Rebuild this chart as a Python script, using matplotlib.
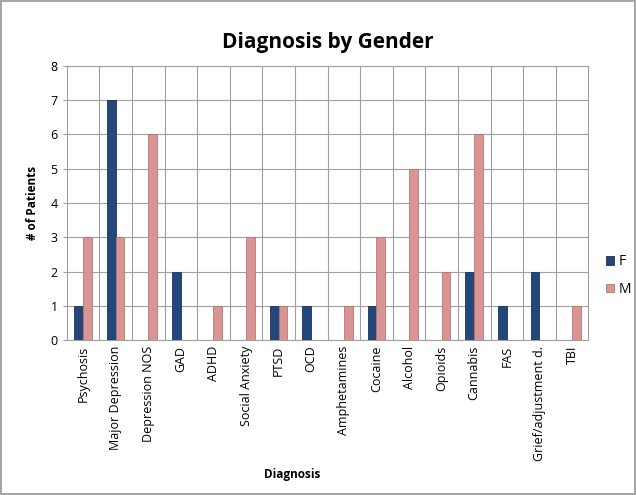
import matplotlib.pyplot as plt
import numpy as np

categories = ["Psychosis", "Major Depression", "Depression NOS", "GAD", "ADHD",
              "Social Anxiety", "PTSD", "OCD", "Amphetamines", "Cocaine", "Alcohol",
              "Opioids", "Cannabis", "FAS", "Grief/adjustment d.", "TBI"]
female = [1, 7, 0, 2, 0, 0, 1, 1, 0, 1, 0, 0, 2, 1, 2, 0]
male = [3, 3, 6, 0, 1, 3, 1, 0, 1, 3, 5, 2, 6, 0, 0, 1]

plt.rcParams['font.family'] = ['Open Sans', 'DejaVu Sans']

#Figure with a thin grey border like the spreadsheet chart frame
figure = plt.figure(figsize=(6.36, 4.95), dpi=100)
figure.patch.set_edgecolor("#a6a6a6")
figure.patch.set_linewidth(1.5)
axes = figure.add_axes([0.105, 0.313, 0.82, 0.554])

x = np.arange(len(categories))
width = 0.27
axes.bar(x - width / 2, female, width, color="#23477a", edgecolor="#1a355c", linewidth=0.6, label="F", zorder=3)
axes.bar(x + width / 2, male, width, color="#d99593", edgecolor="#b87371", linewidth=0.6, label="M", zorder=3)

#Gridlines: horizontal at each integer, vertical between categories
axes.set_xlim(-0.5, len(categories) - 0.5)
axes.set_ylim(0, 8)
axes.set_yticks(range(0, 9))
axes.yaxis.grid(True, color="#a0a0a0", linewidth=0.8, zorder=0)
for boundary in np.arange(0.5, len(categories) - 0.5, 1):
    axes.axvline(boundary, color="#a0a0a0", linewidth=0.8, zorder=0)
for side in axes.spines.values():
    side.set_color("#a0a0a0")
    side.set_linewidth(0.8)

axes.set_xticks(x)
axes.set_xticklabels(categories, rotation=90, fontsize=9)
axes.tick_params(axis="y", labelsize=9, length=3, color="#a0a0a0")
axes.tick_params(axis="x", length=0, pad=4)

axes.set_title("Diagnosis by Gender", fontsize=15, fontweight="bold", pad=13)
axes.set_ylabel("# of Patients", fontsize=8.5, fontweight="bold", labelpad=8)
figure.text(0.46, 0.035, "Diagnosis", fontsize=8.5, fontweight="bold", ha="center")

axes.legend(loc="center left", bbox_to_anchor=(1.01, 0.235), frameon=False, fontsize=10,
            handlelength=0.6, handleheight=0.6, handletextpad=0.3, labelspacing=0.9)

figure.savefig("out.png", dpi=100)
